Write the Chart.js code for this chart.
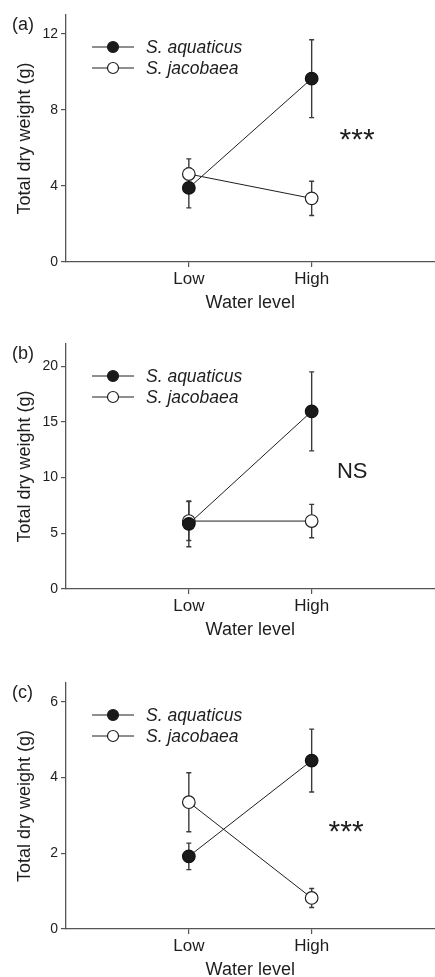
<!DOCTYPE html>
<html>
<head>
<meta charset="utf-8">
<script src="https://cdn.jsdelivr.net/npm/chart.js@4"></script>
<style>
  html, body { margin: 0; padding: 0; background: #fff; overflow: hidden; }
  body { width: 435px; height: 977px; position: relative; }
  /* el lienzo es algo mas ancho: Chart.js deja unos px a la derecha */
  .panel { position: absolute; left: 0; width: 442px; }
</style>
</head>
<body>
<div class="panel" id="wrapA" style="top:0px;height:314px"><canvas id="chartA"></canvas></div>
<div class="panel" id="wrapB" style="top:320px;height:321px"><canvas id="chartB"></canvas></div>
<div class="panel" id="wrapC" style="top:640px;height:341px"><canvas id="chartC"></canvas></div>
<script>
// datos
const categories = ['Low', 'High'];
const seriesNames = ['S. aquaticus', 'S. jacobaea'];
const panelLabels = ['(a)', '(b)', '(c)'];
const notes = ['***', 'NS', '***'];

const aquaticusA = [3.9, 9.65];
const aquaticusErrA = [1.05, 2.05];
const jacobaeaA = [4.63, 3.35];
const jacobaeaErrA = [0.8, 0.9];

const aquaticusB = [5.85, 15.95];
const aquaticusErrB = [2.05, 3.55];
const jacobaeaB = [6.1, 6.1];
const jacobaeaErrB = [1.75, 1.5];

const aquaticusC = [1.92, 4.45];
const aquaticusErrC = [0.35, 0.83];
const jacobaeaC = [3.35, 0.82];
const jacobaeaErrC = [0.78, 0.25];

const yTicksA = [0, 4, 8, 12];
const yTicksB = [0, 5, 10, 15, 20];
const yTicksC = [0, 2, 4, 6];

const FONT = '"Liberation Sans", Arial, Helvetica, sans-serif';
const INK = '#1e1e1e';

/* convierte la serie a puntos x/y (Low = 1, High = 2) */
const toPoints = (vals, errs) => vals.map((v, i) => ({ x: i + 1, y: v, err: errs[i] }));

/* barras de error, se dibujan antes de los puntos */
const errorBars = {
    id: 'errorBars',
    beforeDatasetsDraw(chart) {
        const { ctx, scales: { x, y } } = chart;
        ctx.save();
        ctx.strokeStyle = '#3a3a3a';
        ctx.lineWidth = 1.4;
        chart.data.datasets.forEach(ds => {
            ds.data.forEach(p => {
                const px = x.getPixelForValue(p.x);
                const top = y.getPixelForValue(p.y + p.err);
                const bot = y.getPixelForValue(p.y - p.err);
                ctx.beginPath();
                ctx.moveTo(px, top); ctx.lineTo(px, bot);
                ctx.moveTo(px - 2.5, top); ctx.lineTo(px + 2.5, top);
                ctx.moveTo(px - 2.5, bot); ctx.lineTo(px + 2.5, bot);
                ctx.stroke();
            });
        });
        ctx.restore();
    }
};

/* leyenda, etiqueta del panel y nota de significancia */
const extras = {
    id: 'extras',
    afterDatasetsDraw(chart, args, opts) {
        const { ctx, chartArea, scales: { x, y } } = chart;
        ctx.save();
        // leyenda con linea y marcador
        chart.data.datasets.forEach((ds, i) => {
            const ly = chartArea.top + 32 + i * 21;
            const lx = chartArea.left;
            ctx.strokeStyle = INK;
            ctx.lineWidth = 1;
            ctx.beginPath();
            ctx.moveTo(lx + 26, ly); ctx.lineTo(lx + 68, ly);
            ctx.stroke();
            ctx.beginPath();
            ctx.arc(lx + 47, ly, 5.5, 0, Math.PI * 2);
            ctx.fillStyle = ds.pointBackgroundColor;
            ctx.fill();
            ctx.lineWidth = 1.2;
            ctx.stroke();
            ctx.fillStyle = INK;
            ctx.font = 'italic 17.5px ' + FONT;
            ctx.textAlign = 'left';
            ctx.textBaseline = 'middle';
            ctx.fillText(ds.label, lx + 80, ly + 1);
        });
        // (a), (b), (c)
        ctx.font = '18px ' + FONT;
        ctx.textAlign = 'left';
        ctx.textBaseline = 'middle';
        ctx.fillText(opts.label, 12, chartArea.top + 10);
        // nota
        const nx = x.getPixelForValue(opts.noteX);
        const ny = y.getPixelForValue(opts.noteY);
        ctx.font = opts.noteFont + ' ' + FONT;
        const m = ctx.measureText(opts.note);
        ctx.textAlign = 'center';
        ctx.textBaseline = 'alphabetic';
        ctx.fillText(opts.note, nx, ny + (m.actualBoundingBoxAscent - m.actualBoundingBoxDescent) / 2);
        ctx.restore();
    }
};

function makeChart(id, aq, aqErr, ja, jaErr, yTicks, yMax, padTop, idx, noteX, noteY, noteFont) {
    return new Chart(document.getElementById(id), {
        type: 'scatter',
        data: {
            datasets: [{
                label: seriesNames[0],
                data: toPoints(aq, aqErr),
                showLine: true,
                borderColor: INK,
                borderWidth: 1,
                pointBackgroundColor: '#1a1a1a',
                pointBorderColor: '#111',
                pointBorderWidth: 1.2,
                pointRadius: 6.3
            }, {
                label: seriesNames[1],
                data: toPoints(ja, jaErr),
                showLine: true,
                borderColor: INK,
                borderWidth: 1,
                pointBackgroundColor: '#ffffff',
                pointBorderColor: '#222',
                pointBorderWidth: 1.2,
                pointRadius: 6.3
            }]
        },
        options: {
            responsive: true,
            maintainAspectRatio: false,
            animation: false,
            layout: { padding: { top: padTop, left: 0, right: 0, bottom: 0 } },
            plugins: {
                legend: { display: false },
                tooltip: { enabled: false },
                extras: { label: panelLabels[idx], note: notes[idx], noteX: noteX, noteY: noteY, noteFont: noteFont }
            },
            scales: {
                x: {
                    type: 'linear',
                    min: 0,
                    max: 3,
                    afterBuildTicks: s => { s.ticks = categories.map((c, i) => ({ value: i + 1 })); },
                    afterFit: s => { s.height = 52; },
                    ticks: {
                        callback: v => categories[v - 1],
                        color: INK,
                        font: { family: FONT, size: 17 },
                        padding: 2,
                        maxRotation: 0
                    },
                    grid: { drawOnChartArea: false, drawTicks: true, tickLength: 5, color: '#555', lineWidth: 1.2 },
                    border: { display: true, color: '#555', width: 1.3 },
                    title: { display: true, text: 'Water level', color: INK, font: { family: FONT, size: 18 }, padding: { top: 0, bottom: 0 } }
                },
                y: {
                    min: 0,
                    max: yMax,
                    afterBuildTicks: s => { s.ticks = yTicks.map(v => ({ value: v })); },
                    afterFit: s => { s.width = 66; },
                    ticks: {
                        color: INK,
                        font: { family: FONT, size: 14 },
                        padding: 3
                    },
                    grid: { drawOnChartArea: false, drawTicks: true, tickLength: 5, color: '#555', lineWidth: 1.2 },
                    border: { display: true, color: '#555', width: 1.3 },
                    title: { display: true, text: 'Total dry weight (g)', color: INK, font: { family: FONT, size: 18 }, padding: { top: 14, bottom: 0 } }
                }
            }
        },
        plugins: [errorBars, extras]
    });
}

makeChart('chartA', aquaticusA, aquaticusErrA, jacobaeaA, jacobaeaErrA, yTicksA, 13, 15, 0, 2.37, 6.3, '30px');
makeChart('chartB', aquaticusB, aquaticusErrB, jacobaeaB, jacobaeaErrB, yTicksB, 22, 24, 1, 2.33, 10.1, '22px');
makeChart('chartC', aquaticusC, aquaticusErrC, jacobaeaC, jacobaeaErrC, yTicksC, 6.5, 43, 2, 2.28, 2.49, '30px');
</script>
</body>
</html>
